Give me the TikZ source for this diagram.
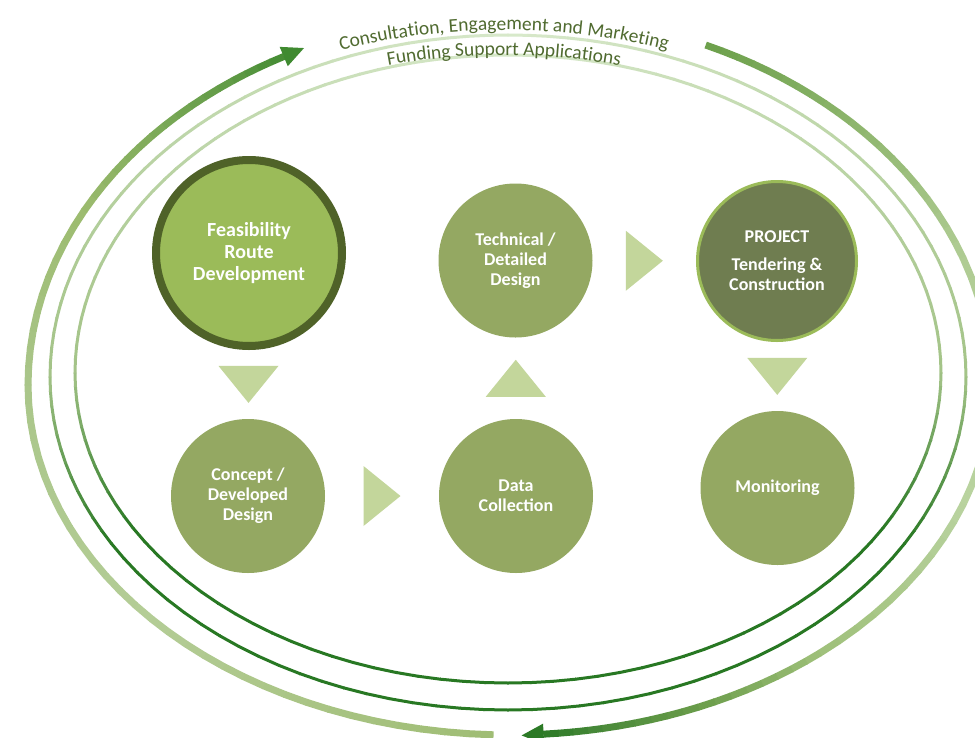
\documentclass[tikz,border=0pt]{standalone}
\usepackage{fontspec}
\setmainfont{Carlito}
\usetikzlibrary{calc,decorations.text}
\definecolor{txtgreen}{RGB}{80,107,48}
\definecolor{feasfill}{RGB}{155,187,89}
\definecolor{feasline}{RGB}{79,98,40}
\definecolor{cfill}{RGB}{148,168,98}
\definecolor{projfill}{RGB}{111,125,80}
\definecolor{projline}{RGB}{155,187,89}
\definecolor{triC}{RGB}{195,214,155}
% left thick arc stops
\definecolor{cLa}{RGB}{159,189,116}
\definecolor{cLb}{RGB}{180,205,150}
\definecolor{cLc}{RGB}{170,198,138}
\definecolor{cLd}{RGB}{156,187,111}
\definecolor{cLe}{RGB}{127,171,90}
\definecolor{cLf}{RGB}{95,154,69}
\definecolor{cLg}{RGB}{68,140,52}
\definecolor{cLh}{RGB}{63,138,48}
% right thick arc stops
\definecolor{cRa}{RGB}{108,160,75}
\definecolor{cRb}{RGB}{141,181,108}
\definecolor{cRc}{RGB}{176,204,148}
\definecolor{cRd}{RGB}{185,211,160}
\definecolor{cRe}{RGB}{159,192,122}
\definecolor{cRf}{RGB}{106,156,74}
\definecolor{cRg}{RGB}{74,138,58}
\definecolor{cRh}{RGB}{44,122,38}
% thin rings
\definecolor{cTL}{RGB}{216,233,203}
\definecolor{cTM}{RGB}{163,195,135}
\definecolor{cTD}{RGB}{40,120,35}

% point on an ellipse with different upper/lower half-heights
\newcommand\ept[2]{%
  \pgfmathsetmacro\eptc{cos(#1)}%
  \pgfmathsetmacro\epts{sin(#1)}%
  \pgfmathsetmacro\eptb{\epts<0 ? \Ebt : \Ebb}%
  \pgfmathsetmacro\eptx{\Ecx+\Ea*\eptc}%
  \pgfmathsetmacro\epty{\Ecy+\eptb*\epts}%
  \coordinate (#2) at (\eptx,\epty);}
% graded arc: #1 t0, #2 t1, #3 colour0, #4 colour1, #5 segments, #6 width
\newcommand\garc[6]{%
  \foreach \gk in {1,...,#5}{%
    \pgfmathsetmacro\gtA{#1+(\gk-1)*(#2-#1)/#5}%
    \pgfmathsetmacro\gtB{#1+\gk*(#2-#1)/#5}%
    \pgfmathtruncatemacro\gpc{100*(\gk-0.5)/#5}%
    \ept{\gtA}{gA}\ept{\gtB}{gB}%
    \draw[line width=#6, color=#4!\gpc!#3, shorten <=-0.4pt, shorten >=-0.4pt] (gA) -- (gB);}}

\tikzset{
  stage/.style={circle, fill=cfill, minimum size=154pt, inner sep=0pt, text=white,
    align=center, font=\bfseries\fontsize{18}{20}\selectfont},
  tri/.style={fill=triC, draw=none},
  toptext/.style={decorate, decoration={text along path, text align=center,
    text color=txtgreen, text={#1}}},
}
\newcommand\tridown[1]{\fill[tri] ($(#1)+(-30,-18.5)$) -- ($(#1)+(30,-18.5)$) -- ($(#1)+(0,18.5)$) -- cycle;}
\newcommand\triup[1]{\fill[tri] ($(#1)+(-30,18.5)$) -- ($(#1)+(30,18.5)$) -- ($(#1)+(0,-18.5)$) -- cycle;}
\newcommand\triright[1]{\fill[tri] ($(#1)+(-18.5,-30)$) -- ($(#1)+(-18.5,30)$) -- ($(#1)+(18.5,0)$) -- cycle;}

\begin{document}
\begin{tikzpicture}[x=1pt,y=-1pt]
\useasboundingbox (0,0) rectangle (975,737);
\fill[white] (0,0) rectangle (975,737);
\begin{scope}
\clip (0,0) rectangle (975,737);
% thin ring 1
\def\Ecx{508}\def\Ecy{377}\def\Ea{458}\def\Ebt{342}\def\Ebb{333}
\garc{-90}{0}{cTL}{cTM}{36}{3pt}
\garc{0}{30}{cTM}{cTD}{12}{3pt}
\garc{30}{150}{cTD}{cTD}{40}{3pt}
\garc{150}{180}{cTD}{cTM}{12}{3pt}
\garc{180}{270}{cTM}{cTL}{36}{3pt}
% thin ring 2
\def\Ecx{508}\def\Ecy{373}\def\Ea{433}\def\Ebt{318}\def\Ebb{310}
\garc{-90}{0}{cTL}{cTM}{36}{3pt}
\garc{0}{30}{cTM}{cTD}{12}{3pt}
\garc{30}{150}{cTD}{cTD}{40}{3pt}
\garc{150}{180}{cTD}{cTM}{12}{3pt}
\garc{180}{270}{cTM}{cTL}{36}{3pt}
% thick outer arcs
\def\Ecx{510}\def\Ecy{385}\def\Ea{482}\def\Ebt{372}\def\Ebb{350}
\garc{92}{138}{cLa}{cLb}{16}{7pt}
\garc{138}{180}{cLb}{cLc}{14}{7pt}
\garc{180}{208}{cLc}{cLd}{10}{7pt}
\garc{208}{222}{cLd}{cLe}{6}{7pt}
\garc{222}{235}{cLe}{cLf}{6}{7pt}
\garc{235}{242}{cLf}{cLg}{4}{7pt}
\ept{241}{hpL}\ept{242}{hbL}
\coordinate (tipL) at ($(hbL)!-22pt!(hpL)$);
\fill[cLh] (tipL) -- ($(hbL)!10.5pt!90:(tipL)$) -- ($(hbL)!10.5pt!-90:(tipL)$) -- cycle;
\garc{-66}{-45}{cRa}{cRb}{10}{7pt}
\garc{-45}{-20}{cRb}{cRc}{10}{7pt}
\garc{-20}{20}{cRc}{cRd}{12}{7pt}
\garc{20}{50}{cRd}{cRe}{10}{7pt}
\garc{50}{67}{cRe}{cRf}{8}{7pt}
\garc{67}{79}{cRf}{cRg}{6}{7pt}
\garc{79}{86}{cRg}{cRh}{4}{7pt}
\ept{85}{hpR}\ept{86}{hbR}
\coordinate (tipR) at ($(hbR)!-22pt!(hpR)$);
\fill[cRh] (tipR) -- ($(hbR)!10.5pt!90:(tipR)$) -- ($(hbR)!10.5pt!-90:(tipR)$) -- cycle;
\end{scope}

% top texts
\path[toptext={|\fontsize{19.5}{22}\selectfont|Consultation, Engagement and Marketing}]
  plot[domain=235:305, samples=40, smooth] ({504+673*cos(\x)},{703+673*sin(\x)});
\path[toptext={|\fontsize{19.5}{22}\selectfont|Funding Support Applications}]
  plot[domain=235:305, samples=40, smooth] ({504+648*cos(\x)},{703+648*sin(\x)});

% stages
\node[stage, fill=feasfill, draw=feasline, line width=8pt, minimum size=186pt,
  font=\bfseries\fontsize{20}{22}\selectfont] (feas) at (249,253) {Feasibility\\Route\\Development};
\node[stage] (concept) at (248,496) {Concept /\\Developed\\Design};
\node[stage] (data) at (516,496) {Data\\Collection};
\node[stage] (tech) at (515.5,260.5) {Technical /\\Detailed\\Design};
\node[stage, fill=projfill, draw=projline, line width=3pt, minimum size=159pt] (proj) at (777,261)
  {PROJECT\\[8pt]Tendering \&\\Construction};
\node[stage] (mon) at (777.5,488) {Monitoring};

% flow triangles
\tridown{$(feas.south)!0.5!(concept.north)$}
\triright{$(concept.east)!0.5!(data.west)$}
\triup{$(data.north)!0.5!(tech.south)$}
\triright{$(tech.east)!0.5!(proj.west)$}
\tridown{$(proj.south)!0.5!(mon.north)$}
\end{tikzpicture}
\end{document}
